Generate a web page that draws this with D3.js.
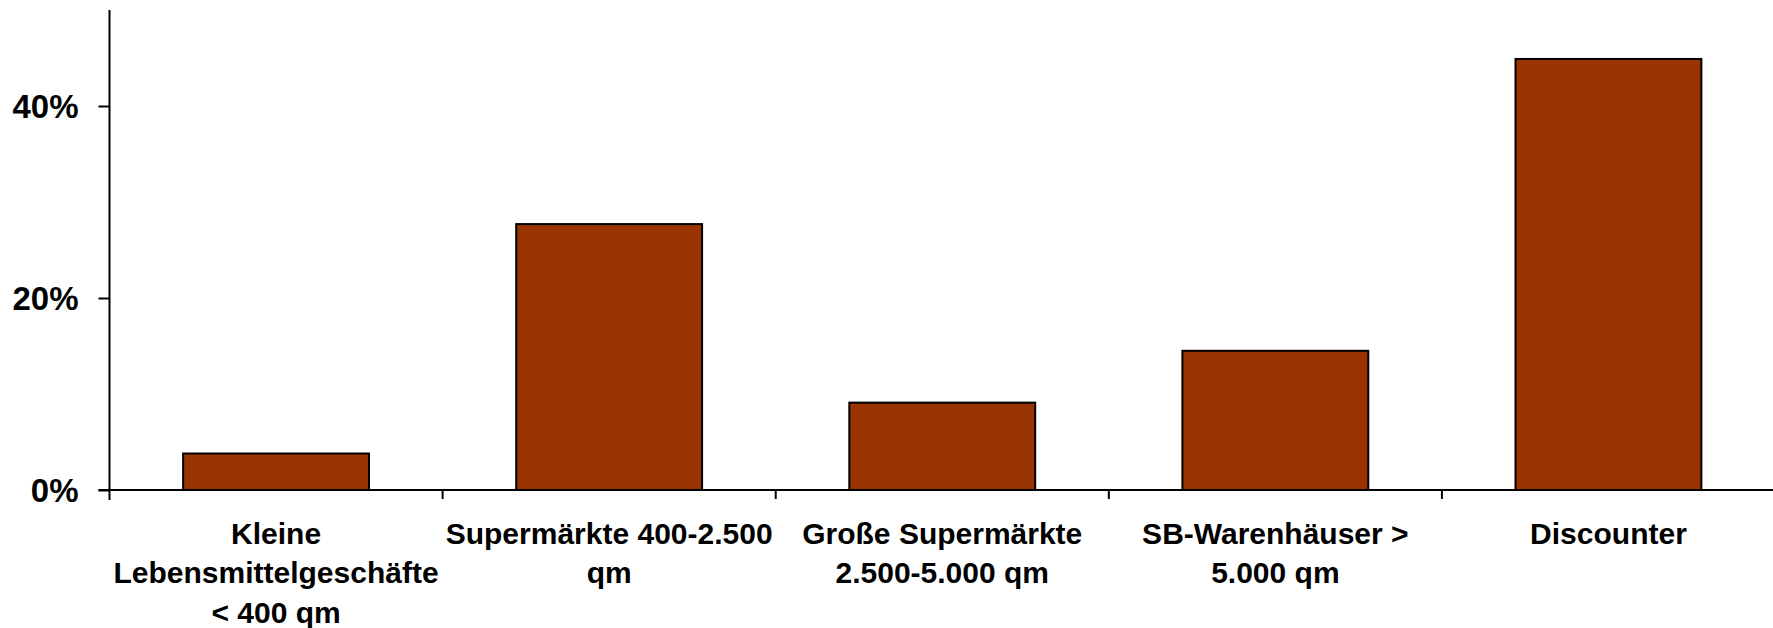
<!DOCTYPE html>
<html>
<head>
<meta charset="utf-8">
<script src="https://cdn.jsdelivr.net/npm/d3@7"></script>
<style>
  html, body { margin: 0; padding: 0; background: #fff; }
  svg { display: block; }
  text { font-family: "Liberation Sans", Arial, sans-serif; font-weight: bold; fill: #000; }
</style>
</head>
<body>
<script>
// Store formats and their share (in %)
const categories = [
  ["Kleine", "Lebensmittelgeschäfte", "< 400 qm"],
  ["Supermärkte 400-2.500", "qm"],
  ["Große Supermärkte", "2.500-5.000 qm"],
  ["SB-Warenhäuser >", "5.000 qm"],
  ["Discounter"]
];
const shares = [3.8, 27.7, 9.1, 14.5, 44.9];
const yTicks = [0, 20, 40];

const W = 1773, H = 628;
const plotLeft = 109.5, plotRight = 1775, plotTop = 10, plotBottom = 490;

const svg = d3.select("body").append("svg").attr("width", W).attr("height", H);

const keys = categories.map((c, i) => i);
const x = d3.scaleBand().domain(keys).range([plotLeft, plotRight])
  .paddingInner(0.442).paddingOuter(0.221);
const y = d3.scaleLinear().domain([0, 50]).range([plotBottom, plotTop]);

// Bars
svg.append("g").selectAll("rect").data(shares).join("rect")
  .attr("x", (d, i) => x(i))
  .attr("y", d => y(d))
  .attr("width", x.bandwidth())
  .attr("height", d => y(0) - y(d))
  .attr("fill", "#993300")
  .attr("stroke", "#000")
  .attr("stroke-width", 2);

// Y axis
const yAxis = d3.axisLeft(y).tickValues(yTicks).tickSize(11).tickPadding(20)
  .tickFormat(d => d + "%");
const gy = svg.append("g").attr("transform", `translate(${plotLeft},0)`).call(yAxis);
gy.select(".domain").attr("stroke", "#000").attr("stroke-width", 2)
  .attr("d", `M0,${plotTop}V${plotBottom + 10}`);
gy.selectAll(".tick line").attr("stroke", "#000").attr("stroke-width", 2);
gy.selectAll(".tick text").style("font-size", "33px").attr("dy", "0.36em")
  .style("font-family", "'Liberation Sans', Arial, sans-serif").style("font-weight", "bold");

// X axis line and category separators
const step = x.step();
const xBound = d3.scaleLinear().domain([0, categories.length])
  .range([plotLeft, plotLeft + step * categories.length]);
svg.append("line")
  .attr("x1", plotLeft - 11).attr("x2", W)
  .attr("y1", y(0)).attr("y2", y(0))
  .attr("stroke", "#000").attr("stroke-width", 2);
svg.append("g").selectAll("line").data(d3.range(1, categories.length)).join("line")
  .attr("x1", d => xBound(d)).attr("x2", d => xBound(d))
  .attr("y1", y(0)).attr("y2", y(0) + 9)
  .attr("stroke", "#000").attr("stroke-width", 2);

// Category labels
const lab = svg.append("g").selectAll("text").data(categories).join("text")
  .attr("text-anchor", "middle")
  .style("font-size", "30px")
  .attr("transform", (d, i) => `translate(${x(i) + x.bandwidth() / 2},544)`);
lab.selectAll("tspan").data(d => d).join("tspan")
  .attr("x", 0)
  .attr("y", (d, j) => j * 39.3)
  .text(d => d);
</script>
</body>
</html>
